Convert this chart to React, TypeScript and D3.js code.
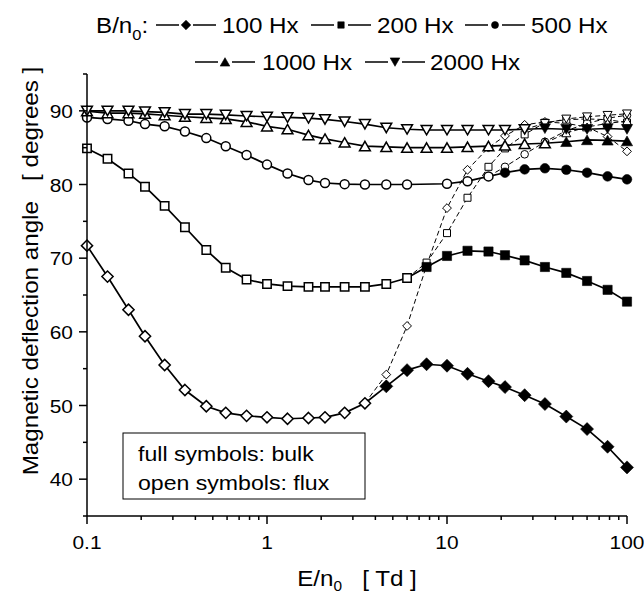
import React from "react"
import * as d3 from "d3"

const W = 644
const H = 594
const FONT = "'Liberation Sans', Arial, Helvetica, sans-serif"
const SX = 1.1 // the original lettering is a bit wider than Arial

const N = null

// E/n0 [Td]
const energy = [0.1, 0.13, 0.17, 0.21, 0.27, 0.35, 0.46, 0.59, 0.77, 1, 1.3, 1.7, 2.1, 2.7, 3.5, 4.6, 6.0, 7.7, 10, 13, 17, 21, 27, 35, 46, 60, 78, 100]

// bulk deflection angle (open symbols where bulk == flux, full symbols after)
const bulk100 = [71.7, 67.5, 63.0, 59.4, 55.5, 52.1, 49.9, 49.0, 48.6, 48.4, 48.2, 48.3, 48.4, 49.0, 50.3, 52.6, 54.8, 55.6, 55.4, 54.3, 53.3, 52.5, 51.4, 50.2, 48.5, 46.8, 44.4, 41.6]
const bulk200 = [84.9, 83.5, 81.5, 79.7, 77.1, 74.2, 71.1, 68.7, 67.1, 66.5, 66.2, 66.1, 66.1, 66.1, 66.1, 66.5, 67.3, 68.8, 70.3, 71.0, 70.9, 70.4, 69.7, 68.8, 68.0, 66.9, 65.7, 64.1]
const bulk500 = [89.1, 88.9, 88.65, 88.2, 87.9, 87.2, 86.3, 85.2, 84.0, 82.7, 81.5, 80.6, 80.2, 80.05, 80.0, 80.0, 80.0, N, 80.1, 80.45, 81.1, 81.6, 82.05, 82.2, 82.0, 81.6, 81.1, 80.7]
const bulk1000 = [89.95, 89.7, 89.7, 89.6, 89.4, 89.2, 89.05, 88.9, 88.5, 87.9, 87.5, 86.7, 86.2, 85.7, 85.2, 85.1, 85.0, 85.0, 85.0, 85.1, 85.2, 85.3, 85.5, 85.6, 85.8, 86.05, 86.0, 85.9]
const bulk2000 = [90.0, 90.0, 90.0, 89.9, 89.8, 89.55, 89.55, 89.45, 89.3, 89.2, 89.1, 89.0, 88.85, 88.55, 88.2, 87.7, 87.5, 87.4, 87.4, 87.4, 87.4, 87.4, 87.5, 87.6, 87.5, 87.5, 87.6, 87.5]

// flux deflection angle, only where it splits off from bulk
const flux100 = [N, N, N, N, N, N, N, N, N, N, N, N, N, N, 50.3, 54.2, 60.8, 69.0, 76.8, 82.0, 85.0, 86.6, 88.1, 88.5, 88.3, 87.8, 86.5, 84.5]
const flux200 = [N, N, N, N, N, N, N, N, N, N, N, N, N, N, N, N, 67.3, 69.4, 73.4, 78.2, 82.4, 84.9, 86.8, 88.4, 88.8, 88.9, 88.8, 88.4]
const flux500 = [N, N, N, N, N, N, N, N, N, N, N, N, N, N, N, N, N, N, N, N, 81.1, 82.4, 84.1, 85.8, 87.3, 88.3, 89.0, 89.4]
const flux1000 = [N, N, N, N, N, N, N, N, N, N, N, N, N, N, N, N, N, N, N, N, N, N, N, 85.6, 87.0, 87.8, 88.3, 88.6]
const flux2000 = [N, N, N, N, N, N, N, N, N, N, N, N, N, N, N, N, N, N, N, N, N, N, 87.5, 88.3, 88.9, 89.2, 89.4, 89.6]

const series = [
  { label: "100 Hx", shape: "diamond", bulk: bulk100, flux: flux100, lastOpen: 14 },
  { label: "200 Hx", shape: "square", bulk: bulk200, flux: flux200, lastOpen: 16 },
  { label: "500 Hx", shape: "circle", bulk: bulk500, flux: flux500, lastOpen: 20 },
  { label: "1000 Hx", shape: "up", bulk: bulk1000, flux: flux1000, lastOpen: 23 },
  { label: "2000 Hx", shape: "down", bulk: bulk2000, flux: flux2000, lastOpen: 22 },
]

const xMajor = [0.1, 1, 10, 100]
const yMajor = [40, 50, 60, 70, 80, 90]

const sizes = {
  diamond: { full: 6.5, open: 5.6, dash: 4.4, legend: 4.8 },
  square: { full: 4.6, open: 4.2, dash: 3.5, legend: 3.2 },
  circle: { full: 4.8, open: 4.5, dash: 3.8, legend: 3.5 },
  up: { full: 5.6, open: 5.4, dash: 4.5, legend: 4.8 },
  down: { full: 5.6, open: 5.4, dash: 4.5, legend: 4.8 },
}

function markerPath(shape, r) {
  switch (shape) {
    case "diamond":
      return `M0,${-r}L${r},0L0,${r}L${-r},0Z`
    case "square":
      return `M${-r},${-r}H${r}V${r}H${-r}Z`
    case "circle":
      return `M${r},0A${r},${r} 0 1,1 ${-r},0A${r},${r} 0 1,1 ${r},0Z`
    case "up":
      return `M0,${-r * 0.9}L${r},${r * 0.85}L${-r},${r * 0.85}Z`
    case "down":
      return `M0,${r * 0.9}L${r},${-r * 0.85}L${-r},${-r * 0.85}Z`
  }
  return ""
}

const Marker = ({ shape, x, y, r, filled, sw = 1.5 }) => (
  <path
    d={markerPath(shape, r)}
    transform={`translate(${x},${y})`}
    fill={filled ? "#000" : "#fff"}
    stroke="#000"
    strokeWidth={filled ? 0.6 : sw}
    strokeLinejoin="miter"
  />
)

// text that is horizontally stretched a little, like the source lettering
const T = ({ x, y, size, anchor = "start", rotate = 0, children }) => (
  <text
    transform={`translate(${x},${y}) rotate(${rotate}) scale(${SX},1)`}
    fontSize={size}
    fontFamily={FONT}
    textAnchor={anchor}
    fill="#000"
  >
    {children}
  </text>
)

export default function App() {
  const x = d3.scaleLog().domain([0.1, 100]).range([87, 627])
  const y = d3.scaleLinear().domain([35, 95]).range([516, 74])

  const line = d3
    .line()
    .x(d => x(d[0]))
    .y(d => y(d[1]))

  const pts = arr =>
    energy.map((e, i) => [e, arr[i], i]).filter(d => d[1] != null)

  const xTicks = x.ticks()
  const yTicks = d3.range(35, 95.1, 5)

  const legendRow1 = [
    { s: series[0], cx: 186, tx: 222, ty: 33 },
    { s: series[1], cx: 341, tx: 377, ty: 33 },
    { s: series[2], cx: 495, tx: 531, ty: 33 },
  ]
  const legendRow2 = [
    { s: series[3], cx: 225, tx: 262, ty: 70 },
    { s: series[4], cx: 395, tx: 430, ty: 70 },
  ]

  return (
    <svg
      width={W}
      height={H}
      style={{ position: "absolute", left: 0, top: 0, background: "#fff" }}
    >
      <rect width={W} height={H} fill="#fff" />

      {/* legend at top */}
      <text
        transform={`translate(96,33) scale(${SX},1)`}
        fontSize={22}
        fontFamily={FONT}
      >
        B/n
        <tspan fontSize={15} dy={7}>0</tspan>
        <tspan dy={-7}>:</tspan>
      </text>
      {[...legendRow1, ...legendRow2].map((d, i) => (
        <g key={i}>
          <line
            x1={d.cx - 30}
            x2={d.cx + 30}
            y1={d.ty - 8}
            y2={d.ty - 8}
            stroke="#000"
            strokeWidth={1.5}
          />
          <rect
            x={d.cx - 7}
            y={d.ty - 14}
            width={14}
            height={12}
            fill="#fff"
          />
          <Marker
            shape={d.s.shape}
            x={d.cx}
            y={d.ty - 8}
            r={sizes[d.s.shape].legend}
            filled
          />
          <T x={d.tx} y={d.ty} size={22}>
            {d.s.label}
          </T>
        </g>
      ))}

      {/* flux: dashed lines, small open symbols */}
      {series.map((s, k) => {
        const p = pts(s.flux)
        return (
          <g key={"f" + k}>
            <path
              d={line(p)}
              fill="none"
              stroke="#000"
              strokeWidth={1}
              strokeDasharray="5,3"
            />
            {p
              .filter(d => d[2] > s.lastOpen)
              .map((d, i) => (
                <Marker
                  key={i}
                  shape={s.shape}
                  x={x(d[0])}
                  y={y(d[1])}
                  r={sizes[s.shape].dash}
                  filled={false}
                  sw={1}
                />
              ))}
          </g>
        )
      })}

      {/* bulk: solid lines */}
      {series.map((s, k) => {
        const p = pts(s.bulk)
        return (
          <g key={"b" + k}>
            <path
              d={line(p)}
              fill="none"
              stroke="#000"
              strokeWidth={1.7}
            />
            {p.map((d, i) => {
              const filled = d[2] > s.lastOpen
              return (
                <Marker
                  key={i}
                  shape={s.shape}
                  x={x(d[0])}
                  y={y(d[1])}
                  r={filled ? sizes[s.shape].full : sizes[s.shape].open}
                  filled={filled}
                />
              )
            })}
          </g>
        )
      })}

      {/* axes */}
      <g stroke="#000" strokeWidth={1.5}>
        <line x1={x(0.1)} x2={x(0.1)} y1={y(95)} y2={y(35)} />
        <line x1={x(0.1)} x2={x(100)} y1={y(35)} y2={y(35)} />
        {xTicks.map((t, i) => {
          const major = xMajor.some(m => Math.abs(m - t) < 1e-9)
          return (
            <line
              key={i}
              x1={x(t)}
              x2={x(t)}
              y1={y(35)}
              y2={y(35) + (major ? 8 : 4)}
            />
          )
        })}
        {yTicks.map((t, i) => {
          const major = t % 10 === 0
          return (
            <line
              key={i}
              x1={x(0.1)}
              x2={x(0.1) - (major ? 8 : 4)}
              y1={y(t)}
              y2={y(t)}
            />
          )
        })}
      </g>
      {xMajor.map((t, i) => (
        <T key={i} x={x(t)} y={549} size={19} anchor="middle">
          {d3.format("~g")(t)}
        </T>
      ))}
      {yMajor.map((t, i) => (
        <T key={i} x={73} y={y(t) + 7} size={19} anchor="end">
          {t}
        </T>
      ))}

      {/* axis titles */}
      <text
        transform={`translate(357,586) scale(${SX},1)`}
        fontSize={22}
        fontFamily={FONT}
        textAnchor="middle"
        style={{ whiteSpace: "pre" }}
      >
        E/n
        <tspan fontSize={14} dy={5}>0</tspan>
        <tspan dy={-5}>{"   [ Td ]"}</tspan>
      </text>
      <text
        transform={`translate(38,271) rotate(-90) scale(${SX},1)`}
        fontSize={22}
        fontFamily={FONT}
        textAnchor="middle"
        style={{ whiteSpace: "pre" }}
      >
        {"Magnetic deflection angle   [ degrees ]"}
      </text>

      {/* symbol key box */}
      <rect
        x={123}
        y={433}
        width={242}
        height={66}
        fill="#fff"
        stroke="#000"
        strokeWidth={1}
      />
      <T x={138} y={461} size={21}>full symbols: bulk</T>
      <T x={138} y={490} size={21}>open symbols: flux</T>
    </svg>
  )
}
